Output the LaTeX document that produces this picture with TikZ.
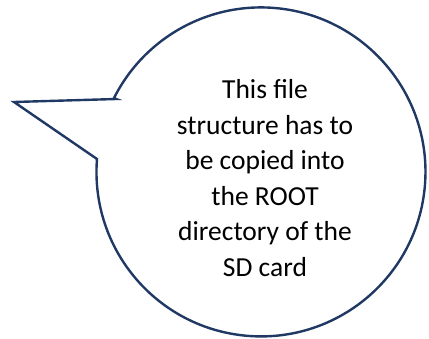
\documentclass[tikz,border=0pt]{standalone}
\usepackage{fontspec}
\setmainfont{Carlito}
\definecolor{bubbleline}{HTML}{1F3864}
\begin{document}
\begin{tikzpicture}[x=1pt,y=-1pt,
  bubble/.style={draw=bubbleline,line width=2.4pt,line join=miter,fill=white},
  note/.style={align=center,font=\fontsize{27.5}{35.6}\selectfont,text=black}]
\useasboundingbox (0,0) rectangle (429,338);
% speech bubble: circle with a pointed tail to the left
\coordinate (tip) at (14,102);
\path[bubble] (116,99) -- (tip) -- (97,159)
  arc[start angle=184.5,end angle=-153.4,radius=164.5] -- cycle;
\node[note] (txt) at (265,178) {This file\\structure has to\\be copied into\\the ROOT\\directory of the\\SD card};
\end{tikzpicture}
\end{document}
